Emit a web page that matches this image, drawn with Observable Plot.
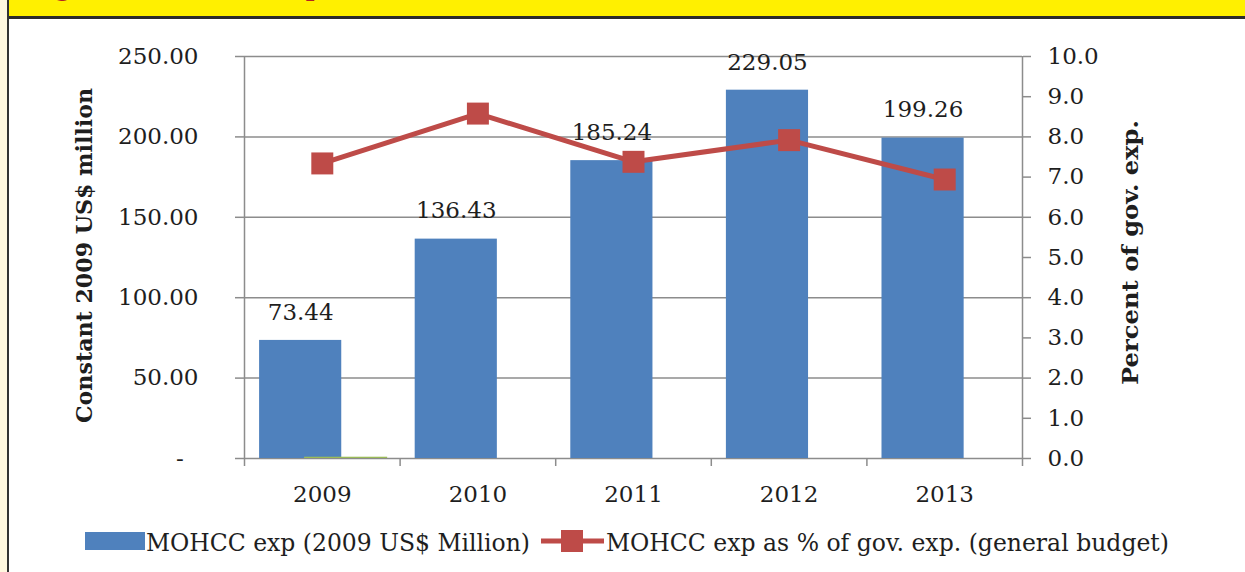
<!DOCTYPE html>
<html>
<head>
<meta charset="utf-8">
<script src="https://cdn.jsdelivr.net/npm/d3@7"></script>
<script src="https://cdn.jsdelivr.net/npm/@observablehq/plot@0.6"></script>
<style>
  html, body { margin: 0; padding: 0; background: #fff; }
  #wrap { position: relative; width: 1245px; height: 572px; overflow: hidden; background: #fff; }
  #strip { position: absolute; left: 0; top: 0; width: 7px; height: 572px; background: #FFF8DF; border-right: 2px solid #333; }
  #banner { position: absolute; left: 9px; top: 0; width: 1236px; height: 16px; background: #FFF000; border-bottom: 3px solid #2b2b2b; overflow: hidden; }
  #banner span { position: absolute; left: 20px; top: -27px; font-family: "DejaVu Serif", serif; font-weight: bold; font-size: 24px; color: #B22222; white-space: nowrap; }
  #chart { position: absolute; left: 0; top: 0; }
  #legend { position: absolute; left: 0; top: 520px; }
</style>
</head>
<body>
<div id="wrap">
  <div id="chart"></div>
  <div id="strip"></div>
  <div id="banner"><span>Figure 3: MOHCC expenditure trends in constant 2009 US$ million and as share of total, 2009&#8211;2013</span></div>
  <div id="legend"></div>
</div>
<script>
const years = [2009, 2010, 2011, 2012, 2013];
const mohccExp = [73.44, 136.43, 185.24, 229.05, 199.26];
const pctGovExp = [7.34, 8.58, 7.38, 7.92, 6.94];
const hiddenSeries = [0.8, 0, 0, 0, 0];
const leftTicks = [0, 50, 100, 150, 200, 250];
const rightTicks = [0, 1, 2, 3, 4, 5, 6, 7, 8, 9, 10];
const leftTitle = "Constant 2009 US$ million";
const rightTitle = "Percent of gov. exp.";
const legendLabels = ["MOHCC exp (2009 US$ Million)", "MOHCC exp as % of gov. exp. (general budget)"];

const ratio = 25; // left units per percent (250 / 10)
const data = years.map((y, i) => ({year: y, exp: mohccExp[i], pct: pctGovExp[i], hid: hiddenSeries[i]}));
const blue = "#4F81BD", red = "#BE4B48", green = "#9BBB59", grid = "#8c8c8c", ink = "#1e1e1e";
const lo = d3.min(years) - 0.5, hi = d3.max(years) + 0.5;
const seps = years.slice(0, -1).map(y => y + 0.5);

const chart = Plot.plot({
  width: 1245,
  height: 572,
  marginLeft: 244,
  marginRight: 223,
  marginTop: 56,
  marginBottom: 114,
  style: {fontFamily: "DejaVu Serif, serif", fontSize: "23px", color: ink, background: "transparent"},
  x: {type: "linear", domain: [lo, hi]},
  y: {domain: [0, 250]},
  marks: [
    Plot.gridY(leftTicks, {stroke: grid, strokeOpacity: 1, strokeWidth: 1.5}),
    Plot.rectY(data, {x1: d => d.year - 0.403, x2: d => d.year + 0.125, y: "exp", fill: blue}),
    Plot.rectY(data.filter(d => d.hid > 0), {x1: d => d.year - 0.114, x2: d => d.year + 0.42, y: "hid", fill: green}),
    Plot.ruleX([lo, hi], {y1: 250, y2: 0, stroke: grid, strokeWidth: 1.5, insetBottom: -8}),
    Plot.ruleX(seps, {y1: 0, y2: 0, stroke: grid, strokeWidth: 1.5, insetBottom: -8}),
    Plot.axisY({anchor: "left", ticks: leftTicks, tickSize: 9, tickPadding: 37, stroke: grid, strokeWidth: 1.5, fill: ink,
      tickFormat: d => d === 0 ? "-\u00a0\u00a0" : d.toFixed(2), label: null}),
    Plot.axisY({anchor: "right", ticks: rightTicks.map(d => d * ratio), tickSize: 8, tickPadding: 17, stroke: grid, strokeWidth: 1.5, fill: ink,
      tickFormat: d => (d / ratio).toFixed(1), label: null}),
    Plot.axisX({ticks: years, tickSize: 0, tickPadding: 27, tickFormat: d => String(d), fill: ink, label: null}),
    Plot.line(data, {x: "year", y: d => d.pct * ratio, stroke: red, strokeWidth: 5}),
    Plot.dot(data, {x: "year", y: d => d.pct * ratio, symbol: "square", r: 12.4, fill: red, stroke: "none"}),
    Plot.text(data, {x: d => d.year - 0.139, y: "exp", text: d => d.exp.toFixed(2), dy: -28, fill: ink, fontSize: 23}),
    Plot.text([leftTitle], {frameAnchor: "left", text: d => d, rotate: -90, dx: -160, dy: -2, textAnchor: "middle", fontWeight: "bold", fontSize: 23, fill: ink}),
    Plot.text([rightTitle], {frameAnchor: "right", text: d => d, rotate: -90, dx: 108, dy: -5, textAnchor: "middle", fontWeight: "bold", fontSize: 23, fill: ink})
  ]
});
document.getElementById("chart").appendChild(chart);
// fit titles to the lengths seen in the reference
d3.select(chart).selectAll("text").each(function () {
  const t = this.textContent;
  if (t === leftTitle) d3.select(this).attr("textLength", 335).attr("lengthAdjust", "spacingAndGlyphs");
  if (t === rightTitle) d3.select(this).attr("textLength", 265).attr("lengthAdjust", "spacingAndGlyphs");
});

// Legend
const lg = d3.select("#legend").append("svg").attr("width", 1245).attr("height", 50)
  .style("font-family", "DejaVu Serif, serif");
lg.append("rect").attr("x", 85).attr("y", 12).attr("width", 60).attr("height", 18).attr("fill", blue);
lg.append("text").attr("x", 146).attr("y", 31).attr("font-size", 25).attr("fill", ink)
  .attr("textLength", 384).attr("lengthAdjust", "spacingAndGlyphs").text(legendLabels[0]);
lg.append("line").attr("x1", 541).attr("x2", 604).attr("y1", 21).attr("y2", 21).attr("stroke", red).attr("stroke-width", 5);
lg.append("rect").attr("x", 561).attr("y", 10).attr("width", 22).attr("height", 22).attr("fill", red);
lg.append("text").attr("x", 606).attr("y", 31).attr("font-size", 25).attr("fill", ink)
  .attr("textLength", 563).attr("lengthAdjust", "spacingAndGlyphs").text(legendLabels[1]);
</script>
</body>
</html>
